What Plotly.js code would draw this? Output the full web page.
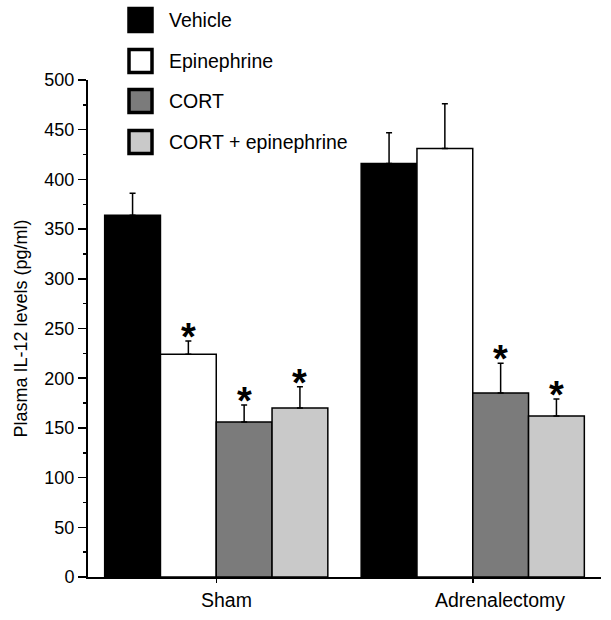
<!DOCTYPE html>
<html>
<head>
<meta charset="utf-8">
<script src="https://cdn.plot.ly/plotly-3.0.1.min.js"></script>
<style>html,body{margin:0;padding:0;background:#fff;}#chart{width:611px;height:620px;}</style>
</head>
<body>
<div id="chart"></div>
<script>
// ---- data ----
const categories = ['Sham', 'Adrenalectomy'];
const seriesNames = ['Vehicle', 'Epinephrine', 'CORT', 'CORT + epinephrine'];
const vehicle = [364, 416];
const vehicleErr = [22, 31];
const epinephrine = [224, 431];
const epinephrineErr = [13.5, 45];
const cort = [156, 185];
const cortErr = [17, 30];
const cortEpi = [170, 162];
const cortEpiErr = [21.5, 17];
const vehicleSig = [false, false];
const epinephrineSig = [true, false];
const cortSig = [true, true];
const cortEpiSig = [true, true];
const yTickVals = [0, 50, 100, 150, 200, 250, 300, 350, 400, 450, 500];

// ---- styling ----
const colors = ['#000000', '#ffffff', '#7b7b7b', '#c9c9c9'];
const FONT = '"Liberation Sans", Arial, sans-serif';
const W = 611, H = 620;
const M = {l: 88, r: 10, t: 80, b: 43};
const plotW = W - M.l - M.r, plotH = H - M.t - M.b;
const px2x = p => (p - M.l) / plotW;
const px2y = p => (H - M.b - p) / plotH;
const bargap = 0.13;

const values = [vehicle, epinephrine, cort, cortEpi];
const errs = [vehicleErr, epinephrineErr, cortErr, cortEpiErr];
const sigs = [vehicleSig, epinephrineSig, cortSig, cortEpiSig];

const traces = values.map((v, i) => ({
  type: 'bar',
  name: seriesNames[i],
  x: categories,
  y: v,
  marker: {color: colors[i], line: {color: '#000', width: 1.5}},
  error_y: {type: 'data', symmetric: false, array: errs[i], arrayminus: v.map(() => 0),
            color: '#000', thickness: 1.5, width: 3},
  showlegend: false,
  hoverinfo: 'skip'
}));

const annotations = [];
const nS = values.length;
const barW = (1 - bargap) / nS;
values.forEach((v, i) => {
  v.forEach((val, j) => {
    if (sigs[i][j]) {
      annotations.push({
        xref: 'x', yref: 'y', x: j + (i - (nS - 1) / 2) * barW, y: val + errs[i][j],
        text: '<b>*</b>', showarrow: false, yanchor: 'middle', yshift: 4,
        font: {family: FONT, size: 38, color: '#000'}
      });
    }
  });
});
// category labels
const labelShift = [10, 27];
categories.forEach((c, j) => {
  annotations.push({
    xref: 'x', yref: 'paper', x: j, y: 0, yanchor: 'top', yshift: -10, xshift: labelShift[j],
    text: c, showarrow: false, font: {family: FONT, size: 19.5, color: '#000'}
  });
});

// custom legend
const shapes = [];
const legendRowY = [20, 61, 101, 142];
seriesNames.forEach((n, i) => {
  const cy = legendRowY[i];
  shapes.push({
    type: 'rect', xref: 'paper', yref: 'paper',
    x0: px2x(129), x1: px2x(152), y0: px2y(cy - 11.5), y1: px2y(cy + 11.5),
    fillcolor: colors[i], line: {color: '#000', width: 3.5}
  });
  annotations.push({
    xref: 'paper', yref: 'paper', x: px2x(167), y: px2y(cy), xanchor: 'left', yanchor: 'middle',
    text: n, showarrow: false, font: {family: FONT, size: 19.5, color: '#000'}
  });
});

const layout = {
  width: W, height: H,
  margin: M,
  paper_bgcolor: '#fff', plot_bgcolor: '#fff',
  barmode: 'group', bargap: bargap, bargroupgap: 0,
  font: {family: FONT, color: '#000'},
  xaxis: {
    type: 'category', range: [-0.5, 1.5], showticklabels: false,
    showline: true, linecolor: '#000', linewidth: 2,
    ticks: 'outside', ticklen: 4, tickwidth: 1.5, tickcolor: '#000',
    showgrid: false, zeroline: false, fixedrange: true
  },
  yaxis: {
    range: [0, 500], tickvals: yTickVals,
    showline: true, linecolor: '#000', linewidth: 2,
    ticks: 'outside', ticklen: 8, tickwidth: 1.5, tickcolor: '#000',
    minor: {dtick: 25, ticks: 'outside', ticklen: 3, tickwidth: 1.5, tickcolor: '#000', showgrid: false},
    tickfont: {family: FONT, size: 18, color: '#000'},
    title: {text: 'Plasma IL-12 levels (pg/ml)', font: {family: FONT, size: 18, color: '#000'}, standoff: 12},
    showgrid: false, zeroline: false, fixedrange: true
  },
  annotations: annotations,
  shapes: shapes
};

Plotly.newPlot('chart', traces, layout, {displayModeBar: false, staticPlot: true});
</script>
</body>
</html>
